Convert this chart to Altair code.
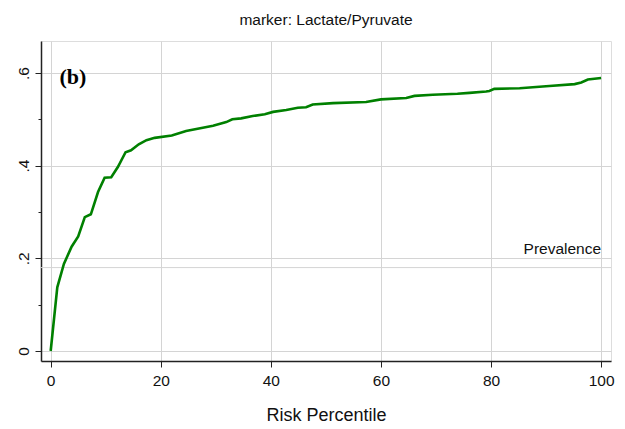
import altair as alt
import pandas as pd

# Risk percentile (x) and cumulative value (y)
percentile = [0, 1.2, 2.4, 3.8, 5, 6.2, 7.3, 8.6, 9.8, 11, 12.2, 13.6, 14.6, 16, 17.4,
              18.9, 22, 24.6, 29.5, 31.9, 33, 34.6, 36.7, 38.9, 40.4, 42.8, 44.9, 46.4,
              47.6, 51.3, 57.3, 60, 64.6, 66.1, 69.4, 73.9, 76.1, 79.1, 79.7, 80.6, 85.2,
              90.6, 95.2, 96.4, 97.6, 100]
value = [0, 0.1375, 0.188, 0.225, 0.247, 0.289, 0.295, 0.343, 0.374, 0.375, 0.397,
         0.429, 0.433, 0.446, 0.455, 0.46, 0.465, 0.475, 0.486, 0.494, 0.5, 0.502,
         0.507, 0.511, 0.516, 0.52, 0.525, 0.526, 0.532, 0.535, 0.5375, 0.543, 0.546,
         0.5505, 0.553, 0.555, 0.557, 0.56, 0.561, 0.5657, 0.567, 0.572, 0.576, 0.5795,
         0.586, 0.589]

prevalence = [0.18]
prevalence_label = ["Prevalence"]
prevalence_label_x = [100]

panel_label = ["(b)"]
panel_label_x = [1.6]
panel_label_y = [0.577]

x_ticks = [0, 20, 40, 60, 80, 100]
y_ticks = [0, 0.1, 0.2, 0.3, 0.4, 0.5, 0.6]

title_text = "marker: Lactate/Pyruvate"
x_title = "Risk Percentile"

df = pd.DataFrame({"p": percentile, "v": value})
prev_df = pd.DataFrame({"v": prevalence, "label": prevalence_label, "p": prevalence_label_x})
lab_df = pd.DataFrame({"p": panel_label_x, "v": panel_label_y, "label": panel_label})

FONT = "Liberation Sans"
odd = "round(datum.value*10) % 2 == 1"

xscale = alt.Scale(domain=[-1.76, 101.8], nice=False, zero=False)
yscale = alt.Scale(domain=[-0.0216, 0.669], nice=False, zero=False)

xaxis = alt.Axis(values=x_ticks, title=x_title, grid=True, gridColor="#d4d4d4",
                 gridWidth=1, tickSize=6, tickColor="#222", domainColor="#222",
                 domainWidth=1.5, labelPadding=6.5, labelFontSize=15.5,
                 labelFont=FONT, labelColor="#111", labelOverlap=False,
                 labelFlush=False, titleFont=FONT, titleFontSize=18,
                 titleFontWeight="normal", titleColor="#111",
                 titleBaseline="alphabetic", titleY=59)

yaxis = alt.Axis(values=y_ticks, title=None, grid=True, gridColor="#d4d4d4",
                 gridWidth=1,
                 gridOpacity={"condition": {"test": odd, "value": 0}, "value": 1},
                 tickSize={"condition": {"test": odd, "value": 3}, "value": 6},
                 tickColor="#222", domainColor="#222", domainWidth=1.5,
                 labelExpr="round(datum.value*10) % 2 == 1 ? '' : (datum.value == 0 ? '0' : '.' + round(datum.value*10))",
                 labelAngle=-90, labelAlign="center", labelBaseline="alphabetic",
                 labelPadding=7, labelFontSize=15.5, labelFont=FONT,
                 labelColor="#111", labelOverlap=False, labelFlush=False)

line = alt.Chart(df).mark_line(color="#008000", strokeWidth=2.6).encode(
    x=alt.X("p:Q", scale=xscale, axis=xaxis),
    y=alt.Y("v:Q", scale=yscale, axis=yaxis),
)

prev_rule = alt.Chart(prev_df).mark_rule(color="#d4d4d4", strokeWidth=1).encode(
    y=alt.Y("v:Q", scale=yscale)
)

prev_text = alt.Chart(prev_df).mark_text(
    align="right", baseline="alphabetic", dy=-13.5, font=FONT, fontSize=15.5,
    color="#111"
).encode(
    x=alt.X("p:Q", scale=xscale),
    y=alt.Y("v:Q", scale=yscale),
    text="label:N",
)

b_text = alt.Chart(lab_df).mark_text(
    align="left", baseline="alphabetic", font="Liberation Serif", fontSize=22,
    fontWeight="bold", color="#000"
).encode(
    x=alt.X("p:Q", scale=xscale),
    y=alt.Y("v:Q", scale=yscale),
    text="label:N",
)

chart = alt.layer(prev_rule, line, prev_text, b_text).properties(
    width=570,
    height=320,
    title=alt.TitleParams(title_text, font=FONT, fontSize=15.5, fontWeight="normal",
                          color="#111", offset=13, anchor="middle", frame="group"),
    autosize=alt.AutoSizeParams(type="none"),
    padding={"left": 33, "top": 33, "right": 6, "bottom": 68},
).configure_view(
    stroke="#222", strokeWidth=1.5
).configure(background="white")

chart.save("out.html", embed_options={"renderer": "svg", "actions": False})
